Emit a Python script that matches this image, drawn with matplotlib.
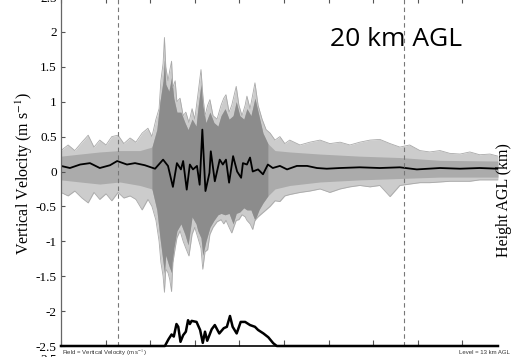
import matplotlib
matplotlib.use("Agg")
import matplotlib.pyplot as plt
from matplotlib.ticker import MultipleLocator, FuncFormatter
import numpy as np

plt.rcParams["mathtext.fontset"] = "stix"

# ensemble spread (outer envelope of the gray member traces)
env_x = [0.0, 1.6, 3.1, 4.7, 6.1, 7.4, 8.7, 10.1, 11.4, 12.8, 14.1, 15.5, 16.8, 18.2, 19.5,
         20.4, 21.3, 22.0, 22.4, 22.9, 23.2, 23.5, 24.0, 24.4, 24.8, 25.1, 25.6, 26.0, 26.7,
         27.4, 28.0, 28.7, 29.4, 30.0, 30.7, 31.4, 31.8, 32.3, 32.9, 33.4, 34.1, 35.0, 35.9,
         36.5, 37.0, 37.7, 38.3, 39.3, 39.9, 40.6, 41.3, 41.7, 42.4, 43.0, 43.5, 44.2, 45.1,
         46.0, 46.9, 48.0, 49.1, 50.2, 51.3, 53.6, 55.8, 58.1, 60.3, 62.6, 64.8, 67.0, 69.3,
         71.5, 73.8, 76.0, 78.2, 80.5, 82.7, 85.0, 87.2, 89.5, 91.7, 93.9, 96.2, 98.0]
env_hi = [0.30, 0.38, 0.30, 0.42, 0.52, 0.35, 0.45, 0.38, 0.50, 0.52, 0.40, 0.48, 0.42, 0.55, 0.62,
          0.50, 0.75, 0.90, 1.30, 1.55, 1.92, 1.50, 1.30, 1.45, 1.58, 1.20, 1.30, 1.00, 1.05,
          0.80, 0.85, 0.70, 0.90, 0.75, 1.10, 1.46, 1.10, 0.80, 0.95, 1.03, 0.80, 0.75, 0.95,
          1.05, 1.10, 0.85, 0.95, 1.22, 0.95, 0.80, 0.95, 1.08, 0.90, 1.10, 1.27, 0.95, 0.75,
          0.60, 0.55, 0.45, 0.50, 0.40, 0.45, 0.38, 0.42, 0.45, 0.40, 0.42, 0.38, 0.42, 0.45,
          0.46, 0.40, 0.35, 0.38, 0.30, 0.28, 0.30, 0.26, 0.25, 0.28, 0.24, 0.25, 0.22]
env_lo = [-0.30, -0.35, -0.28, -0.38, -0.45, -0.30, -0.40, -0.32, -0.42, -0.30, -0.38, -0.35, -0.40, -0.55, -0.40,
          -0.50, -0.70, -1.00, -1.30, -1.50, -1.73, -1.40, -1.45, -1.55, -1.72, -1.30, -1.10, -0.95, -0.85,
          -1.00, -1.10, -1.21, -0.90, -0.80, -0.95, -1.10, -1.40, -1.15, -1.12, -0.90, -0.80, -0.72, -0.69,
          -0.75, -0.70, -0.80, -0.88, -0.70, -0.69, -0.62, -0.65, -0.70, -0.75, -0.83, -0.70, -0.65, -0.60,
          -0.55, -0.50, -0.42, -0.43, -0.35, -0.33, -0.30, -0.28, -0.25, -0.30, -0.25, -0.22, -0.20, -0.22,
          -0.20, -0.36, -0.20, -0.18, -0.16, -0.16, -0.15, -0.14, -0.14, -0.14, -0.12, -0.12, -0.12]

# dense core of the ensemble
core_x = [0.0, 4.3, 8.7, 13.2, 17.7, 20.4, 21.5, 22.2, 22.9, 23.2, 23.5, 24.2, 24.8, 25.3, 26.0,
          26.9, 27.8, 28.5, 29.4, 30.3, 30.7, 31.4, 31.8, 32.5, 33.4, 34.3, 35.2, 35.9, 36.8,
          37.7, 38.6, 39.3, 40.1, 41.0, 41.7, 42.6, 43.5, 44.4, 45.3, 46.4, 48.0, 51.3, 58.1,
          67.0, 76.0, 85.0, 98.0]
core_hi = [0.22, 0.25, 0.28, 0.30, 0.30, 0.35, 0.60, 1.00, 1.30, 1.60, 1.25, 1.15, 1.35, 1.05, 0.85,
           0.85, 0.70, 0.60, 0.75, 0.65, 0.90, 1.25, 0.95, 0.70, 0.85, 0.70, 0.65, 0.80, 0.90,
           0.75, 0.80, 1.00, 0.80, 0.75, 0.90, 0.80, 1.05, 0.80, 0.55, 0.40, 0.30, 0.28, 0.25,
           0.22, 0.20, 0.16, 0.15]
core_lo = [-0.12, -0.15, -0.18, -0.15, -0.20, -0.25, -0.55, -0.95, -1.30, -1.45, -1.20, -1.35, -1.45, -1.10, -0.85,
           -0.75, -0.90, -1.05, -0.65, -0.75, -0.85, -0.95, -1.20, -1.00, -0.80, -0.70, -0.62, -0.60, -0.62,
           -0.60, -0.75, -0.60, -0.58, -0.52, -0.55, -0.55, -0.70, -0.55, -0.45, -0.35, -0.25, -0.20, -0.15,
           -0.12, -0.10, -0.08, -0.08]

# ensemble mean
mean_x = [0.0, 2.0, 4.3, 6.5, 8.7, 11.0, 12.6, 14.8, 16.6, 18.8, 21.1, 22.9, 24.0, 25.1, 26.0,
          26.9, 27.4, 28.2, 28.9, 29.6, 30.5, 31.1, 31.7, 32.4, 33.3, 33.6, 34.5, 35.6, 36.3,
          37.0, 37.7, 38.6, 39.5, 40.4, 40.8, 41.7, 42.4, 43.0, 44.2, 45.3, 46.4, 47.5, 49.1,
          50.7, 52.9, 55.2, 57.4, 59.6, 62.6, 67.0, 71.5, 76.0, 79.8, 85.0, 89.5, 93.9, 98.0]
mean_w = [0.08, 0.05, 0.10, 0.12, 0.05, 0.09, 0.15, 0.10, 0.12, 0.09, 0.04, 0.17, 0.08, -0.22, 0.12,
          0.03, 0.15, -0.26, 0.10, 0.03, 0.08, -0.19, 0.60, -0.28, -0.02, 0.29, -0.14, 0.17, 0.10,
          0.17, -0.16, 0.22, 0.00, -0.09, 0.12, 0.10, 0.20, 0.00, 0.03, -0.04, 0.10, 0.05, 0.08,
          0.03, 0.08, 0.08, 0.05, 0.04, 0.05, 0.06, 0.05, 0.06, 0.03, 0.05, 0.04, 0.05, 0.04]

# terrain / height profile (right axis, km)
hgt_x = [0.0, 20.0, 23.3, 24.1, 24.8, 25.3, 25.9, 26.3, 26.8, 27.4, 28.0, 28.5, 28.9, 29.3, 30.4,
         31.2, 31.8, 32.3, 32.8, 33.8, 34.5, 35.5, 36.5, 37.2, 37.9, 38.5, 39.4, 40.3, 41.3,
         42.4, 43.5, 44.2, 45.4, 46.5, 47.6, 48.4, 98.0]
hgt_km = [0.0, 0.0, 0.0, 0.19, 0.33, 0.27, 0.63, 0.55, 0.12, 0.31, 0.41, 0.74, 0.63, 0.72, 0.69,
          0.46, 0.09, 0.41, 0.15, 0.48, 0.60, 0.36, 0.51, 0.55, 0.86, 0.55, 0.36, 0.69, 0.69,
          0.60, 0.55, 0.46, 0.36, 0.25, 0.08, 0.0, 0.0]

window = [12.8, 76.9]
burst = [20.4, 46.4]

serif = "Liberation Serif"

fig = plt.figure(figsize=(5.12, 3.57), dpi=100)
ax = fig.add_axes([0.1191, 0.0308, 0.8535, 0.9776])

cx = np.array(core_x)
chi = np.array(core_hi)
clo = np.array(core_lo)
act = (cx >= burst[0]) & (cx <= burst[1])

ax.fill_between(env_x, env_lo, env_hi, color="#cccccc", lw=0)
ax.plot(env_x, env_hi, color="#a9a9a9", lw=0.6)
ax.plot(env_x, env_lo, color="#a9a9a9", lw=0.6)
ax.fill_between(cx, clo, chi, color="#ababab", lw=0)
ax.fill_between(cx[act], clo[act], chi[act], color="#8c8c8c", lw=0)
ax.plot(mean_x, mean_w, color="black", lw=1.3)

for xv in window:
    ax.axvline(xv, color="#777777", lw=0.8, ls=(0, (4, 3)))

ax.set_xlim(0, 98)
ax.set_ylim(-2.5, 2.5)
ax.xaxis.set_major_locator(MultipleLocator(10))
ax.yaxis.set_major_locator(MultipleLocator(0.5))
ax.yaxis.set_major_formatter(FuncFormatter(lambda v, p: "%g" % v))
ax.tick_params(axis="x", direction="in", length=4, color="#555555", top=True, labelbottom=False)
ax.tick_params(axis="y", direction="in", length=3, color="#555555", labelsize=9.5, pad=3)
ax.tick_params(axis="y", right=True)
for lab in ax.get_yticklabels():
    lab.set_fontfamily(serif)
for s in ["top", "right"]:
    ax.spines[s].set_visible(False)
ax.spines["left"].set_color("#666666")
ax.spines["left"].set_linewidth(0.9)
ax.spines["bottom"].set_color("black")
ax.spines["bottom"].set_linewidth(1.2)

ax2 = ax.twinx()
ax2.set_ylim(0, 10)
ax2.plot(hgt_x, hgt_km, color="black", lw=1.8, clip_on=False)
ax2.set_xlim(0, 98)
ax2.set_yticks([])
for s in ax2.spines.values():
    s.set_visible(False)

fig.text(0.047, 0.515, "Vertical Velocity (m s$^{-1}$)", rotation=90, ha="center", va="center",
         fontsize=11.5, family=serif)
fig.text(0.984, 0.44, "Height AGL (km)", rotation=90, ha="center", va="center",
         fontsize=11.5, family=serif)
fig.text(0.6445, 0.871, "20 km AGL", fontsize=19, family="Open Sans", va="baseline")
fig.text(0.121, 0.012, "Field = Vertical Velocity (m s$^{-1}$)", fontsize=4.3,
         family="Liberation Sans", color="#333333", va="center")
fig.text(0.8965, 0.012, "Level = 13 km AGL", fontsize=4.3, family="Liberation Sans",
         color="#333333", va="center")
fig.text(0.111, -0.008, "2.5", fontsize=9.5, family=serif, ha="right", va="center")

fig.savefig("out.png", dpi=100)
